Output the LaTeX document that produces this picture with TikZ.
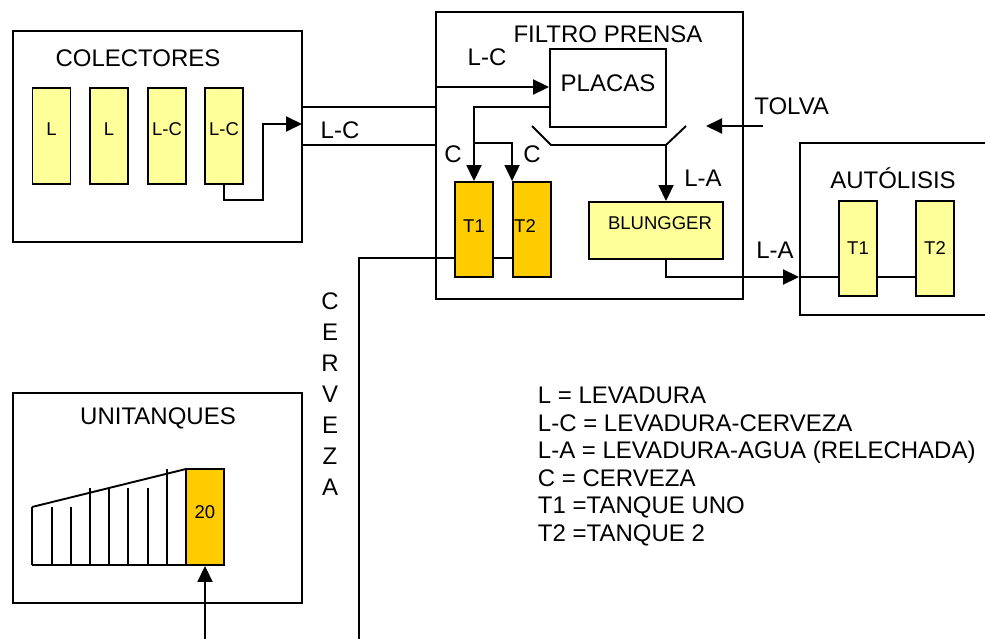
\documentclass[tikz,border=0pt]{standalone}
\usepackage{fontspec}
\setmainfont{Liberation Sans}
\usepackage{xcolor}
\usetikzlibrary{arrows.meta,positioning}
\definecolor{lev}{HTML}{FFFF99}
\definecolor{tanq}{HTML}{FFCC00}

\begin{document}
\begin{tikzpicture}[x=1pt,y=-1pt,line width=1.9pt,
  big/.style={font=\fontsize{24}{27.6}\selectfont},
  small/.style={font=\fontsize{18.5}{22}\selectfont},
  area/.style={draw,inner sep=0pt,align=center},
  tank/.style={draw,inner sep=0pt,minimum width=38pt,minimum height=96pt,small,align=center},
  >={Triangle[length=16pt,width=15pt]}]
  \useasboundingbox (0,0) rectangle (985,639);
  % colectores
  \node[area,minimum width=289pt,minimum height=211pt] (col) at (157.5,136.5) {};
  \node[big] (tcol) at (138,58) {COLECTORES};
  \node[tank,fill=lev] (c1) at (51.5,136) {L\\[-8pt]};
  \node[tank,fill=lev] (c2) at (109,136) {L\\[-8pt]};
  \node[tank,fill=lev] (c3) at (167,136) {L-C\\[-8pt]};
  \node[tank,fill=lev] (c4) at (224,136) {L-C\\[-8pt]};
  % filtro prensa
  \node[area,minimum width=307pt,minimum height=287pt] (fp) at (589.5,155.5) {};
  \node[big] (tfp) at (608,34) {FILTRO PRENSA};
  \node[area,big,minimum width=116pt,minimum height=78pt] (placas) at (608,88) {PLACAS\\[-17pt]};
  \node[tank,fill=tanq,minimum height=95pt] (t1) at (474,229.5) {T1\\[-15pt]};
  \node[tank,fill=tanq,minimum height=95pt] (t2) at (532,229.5) {\hspace*{-14pt}T2\\[-15pt]};
  \node[area,small,fill=lev,minimum width=134pt,minimum height=57pt] (blung) at (656,230.5) {\hspace*{8pt}BLUNGGER\\[-8pt]};
  % autolisis
  \node[area,minimum width=200pt,minimum height=172pt] (aut) at (900,229) {};
  \node[big] (taut) at (893,178) {AUTÓLISIS};
  \node[tank,fill=lev,minimum height=95pt] (at1) at (858,248.5) {T1};
  \node[tank,fill=lev,minimum height=95pt] (at2) at (935,248.5) {T2};
  % unitanques
  \node[area,minimum width=289pt,minimum height=210pt] (uni) at (157.5,498) {};
  \node[big] (tuni) at (158,418) {UNITANQUES};
  \draw (32,507) -- (186,469);
  \draw (32,565) -- (186,565);
  \foreach \x/\t in {32/507,52/507,71/507,90/488,109/488,128/488,148/488,167/469}
    \draw (\x,565) -- (\x,\t);
  \node[tank,fill=tanq] (u20) at (205,517) {20\\[-12pt]};

  % conexiones
  \coordinate (in) at (302,124);
  \draw[->] (c4.south) |- (263,200) |- (in);
  \draw (col.east |- 0,107) -- (fp.west |- 0,107);
  \draw (col.east |- 0,145) -- (fp.west |- 0,145);
  \node[big] (lc1) at (340,130) {L-C};
  \draw[->] (fp.west |- 0,87) -- (placas.west |- 0,87);
  \node[big] (lc2) at (487,57) {L-C};
  \draw[->] (placas.west |- 0,107) -| (t1.north);
  \draw[->] (t1.north |- 0,143) -| (t2.north west);
  \node[big] (ca) at (453,154) {C};
  \node[big] (cb) at (532,154) {C};
  \coordinate (vmid) at (666,145);
  \draw (532,126) -- (551,145) -- (vmid) -- (686,126);
  \draw[->] (vmid) -- (blung.north -| vmid);
  \node[big] (la1) at (703,178) {L-A};
  \coordinate (tolva) at (763,126);
  \draw[->] (tolva) -- (706,126);
  \node[big,anchor=west] (ttolva) at (750,106) {TOLVA};
  \draw[->] (blung.south -| vmid) |- (aut.west |- 0,277);
  \node[big] (la2) at (775,250) {L-A};
  \draw (aut.west |- 0,277) -- (at1.west |- 0,277);
  \draw (at1.east |- 0,277) -- (at2.west |- 0,277);
  \draw (t1.east |- 0,258) -- (t2.west |- 0,258);
  \draw[line width=2.6pt] (t1.west |- 0,258) -| (359,645);
  \node[big,align=center,font=\fontsize{24}{31}\selectfont] (cerv) at (330,394.5) {C\\E\\R\\V\\E\\Z\\A};
  \draw[->] (205,645) -- (u20.south);
  % leyenda
  \node[big,align=left,anchor=north west,inner sep=0pt] (leg) at (537,386) {L = LEVADURA\\L-C = LEVADURA-CERVEZA\\L-A = LEVADURA-AGUA (RELECHADA)\\C = CERVEZA\\T1 =TANQUE UNO\\T2 =TANQUE 2};
\end{tikzpicture}
\end{document}
